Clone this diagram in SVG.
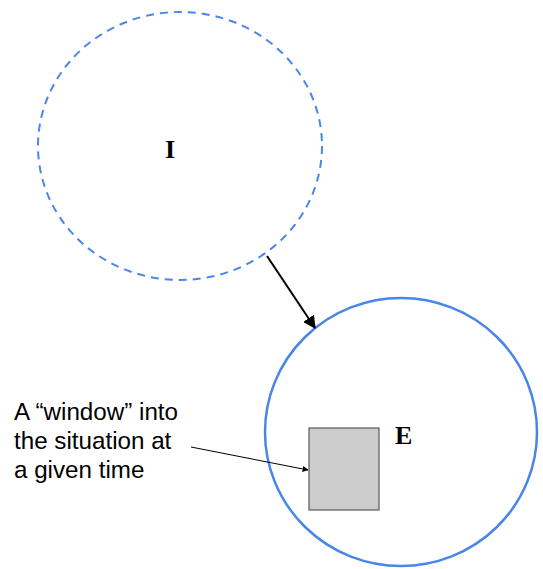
<svg xmlns="http://www.w3.org/2000/svg" width="543" height="569" viewBox="0 0 543 569">
<defs>
<style>
.lbl{font-family:"Liberation Sans",Arial,sans-serif;font-size:24.2px;fill:#000}
.big{font-family:"Liberation Serif","Times New Roman",serif;font-size:26px;font-weight:bold;fill:#000}
</style>
<marker id="ah" viewBox="0 0 10 10" refX="9" refY="5" markerWidth="6" markerHeight="6" orient="auto" markerUnits="userSpaceOnUse">
<path d="M0,0 L10,5 L0,10 z" fill="#000"/>
</marker>
<marker id="ahBig" viewBox="0 0 10 10" refX="9" refY="5" markerWidth="13" markerHeight="13" orient="auto" markerUnits="userSpaceOnUse">
<path d="M0,0 L10,5 L0,10 z" fill="#000"/>
</marker>
</defs>
<rect width="543" height="569" fill="#fff"/>
<g id="nodeI">
<ellipse cx="180" cy="146" rx="142" ry="134" fill="none" stroke="#4a86e8" stroke-width="2" stroke-dasharray="8,6"/>
<text class="big" x="165" y="158">I</text>
</g>
<g id="nodeE">
<ellipse cx="401" cy="432" rx="136" ry="134" fill="none" stroke="#4a86e8" stroke-width="2.5"/>
<text class="big" x="395" y="444">E</text>
</g>
<g id="window">
<rect x="309" y="428" width="70" height="82" fill="#cccccc" stroke="#595959" stroke-width="1.2"/>
</g>
<g id="label">
<text class="lbl" x="14" y="420">A “window” into</text>
<text class="lbl" x="14" y="449">the situation at</text>
<text class="lbl" x="14" y="478">a given time</text>
</g>
<g id="connectors">
<line x1="267" y1="256" x2="315" y2="328" stroke="#000" stroke-width="2" marker-end="url(#ahBig)"/>
<line x1="191" y1="447" x2="308" y2="470" stroke="#000" stroke-width="1" marker-end="url(#ah)"/>
</g>
</svg>
